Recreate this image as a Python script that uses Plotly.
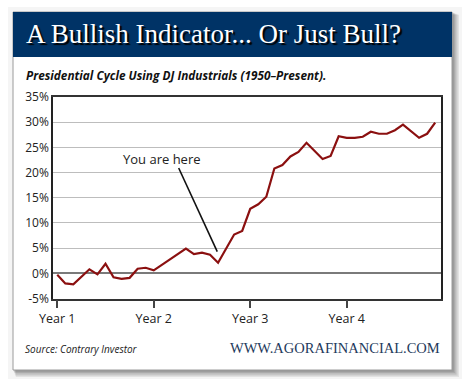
import plotly.graph_objects as go

# ---- data ----
months = [0, 1, 2, 4, 5, 6, 7, 8, 9, 10, 11, 12, 16, 17, 18, 19, 20, 22, 23,
          24, 25, 26, 27, 28, 29, 30, 31, 32, 33, 34, 35, 36, 37, 38, 39, 40,
          41, 42, 43, 45, 46, 47]
cycle_return = [-0.3, -2.0, -2.2, 0.8, -0.2, 1.9, -0.8, -1.1, -0.9, 0.9, 1.1, 0.6,
                4.9, 3.8, 4.1, 3.7, 2.1, 7.7, 8.4,
                12.8, 13.7, 15.2, 20.8, 21.5, 23.2, 24.1, 25.9, 24.3, 22.7, 23.3,
                27.2, 26.9, 26.9, 27.1, 28.1, 27.7, 27.7, 28.4, 29.5, 26.9, 27.7, 29.9]
year_ticks = [0, 12, 24, 36]
year_labels = ["Year 1", "Year 2", "Year 3", "Year 4"]
y_ticks = [-5, 0, 5, 10, 15, 20, 25, 30, 35]
y_labels = ["-5%", "0%", "5%", "10%", "15%", "20%", "25%", "30%", "35%"]

W, H = 470, 389
def px(x):
    return x / W
def py(y):
    return 1 - y / H

fig = go.Figure()
fig.add_trace(go.Scatter(x=months, y=cycle_return, mode="lines",
                         line=dict(color="#8B1010", width=2.2),
                         hoverinfo="skip", showlegend=False))

shapes = []
# soft halo around the card
shapes.append(dict(type="rect", xref="paper", yref="paper", layer="below",
                   x0=px(8), x1=px(462), y0=py(379), y1=py(7),
                   fillcolor="rgba(120,120,120,0.07)", line=dict(width=0)))
# card shadow
for i, op in enumerate([0.10, 0.10, 0.12, 0.14, 0.16]):
    d = 7 - i * 1.3
    shapes.append(dict(type="rect", xref="paper", yref="paper", layer="below",
                       x0=px(13 + d * 0.4), x1=px(452 + d), y0=py(370 + d), y1=py(12 + d * 0.4),
                       fillcolor="rgba(60,60,60,%.2f)" % op, line=dict(width=0)))
# white card
shapes.append(dict(type="rect", xref="paper", yref="paper", layer="below",
                   x0=px(13), x1=px(452), y0=py(370), y1=py(12),
                   fillcolor="white", line=dict(color="#9a9a9a", width=1)))
# navy header
shapes.append(dict(type="rect", xref="paper", yref="paper", layer="below",
                   x0=px(13), x1=px(452), y0=py(57), y1=py(12),
                   fillcolor="#003366", line=dict(width=0)))
# pointer line for annotation
shapes.append(dict(type="line", xref="x", yref="y", layer="above",
                   x0=15.1, y0=20.9, x1=19.9, y1=4.3,
                   line=dict(color="#111", width=1.6)))

annotations = [
    dict(text="A Bullish Indicator... Or Just Bull?", xref="paper", yref="paper",
         x=px(24), y=py(34), xanchor="left", yanchor="middle", showarrow=False,
         font=dict(family="Liberation Serif", size=27, color="white",
                   shadow="2px 2px 1px #000")),
    dict(text="<b><i>Presidential Cycle Using DJ Industrials (1950–Present).</i></b>",
         xref="paper", yref="paper", x=px(24), y=py(75), xanchor="left", yanchor="middle",
         showarrow=False, font=dict(family="Open Sans", size=11.8, color="#111")),
    dict(text="You are here", xref="x", yref="y", x=13.0, y=22.6,
         xanchor="center", yanchor="middle", showarrow=False,
         font=dict(family="Open Sans", size=13, color="#222")),
    dict(text="<i>Source: Contrary Investor</i>", xref="paper", yref="paper",
         x=px(23), y=py(349), xanchor="left", yanchor="middle", showarrow=False,
         font=dict(family="Open Sans", size=10, color="#222")),
    dict(text="WWW.AGORAFINANCIAL.COM", xref="paper", yref="paper",
         x=px(442), y=py(348), xanchor="right", yanchor="middle", showarrow=False,
         font=dict(family="Liberation Serif", size=14.5, color="#1e3a5c")),
]

fig.update_layout(
    width=W, height=H,
    margin=dict(l=0, r=0, t=0, b=0, pad=0),
    paper_bgcolor="white", plot_bgcolor="rgba(0,0,0,0)",
    shapes=shapes, annotations=annotations,
    xaxis=dict(domain=[px(53), px(440.7)], range=[-0.53, 47.69], automargin=False,
               tickmode="array", tickvals=year_ticks, ticktext=year_labels,
               ticks="outside", ticklen=8, tickwidth=1.5, tickcolor="#444",
               showgrid=False, zeroline=False, showline=True, linecolor="#333",
               linewidth=1.5, mirror=True,
               tickfont=dict(family="Open Sans", size=12.5, color="#222")),
    yaxis=dict(domain=[py(298.5), py(97)], range=[-5, 35], automargin=False,
               tickmode="array", tickvals=y_ticks, ticktext=y_labels,
               ticks="", showgrid=True, gridcolor="#bdbdbd", gridwidth=1,
               zeroline=True, zerolinecolor="#7a7a7a", zerolinewidth=2.2,
               showline=True, linecolor="#222", linewidth=1.5, mirror=True,
               tickfont=dict(family="Open Sans", size=12, color="#222")),
)

fig.write_html("out.html", config={"displayModeBar": False},
               post_script="document.body.style.margin='0';document.body.style.overflow='hidden';")
